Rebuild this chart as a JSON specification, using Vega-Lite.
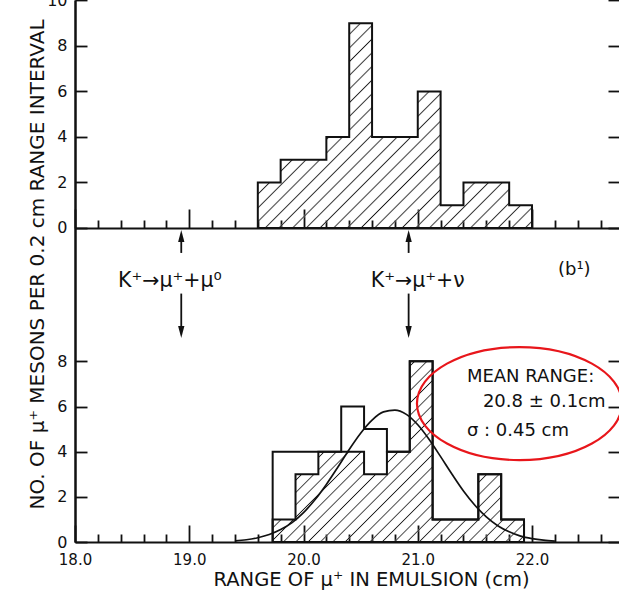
{
  "$schema": "https://vega.github.io/schema/vega-lite/v6.json",
  "autosize": "none",
  "padding": {"left": 75, "top": 0, "right": 0, "bottom": 49},
  "width": 545,
  "height": 542,
  "background": "#ffffff",
  "config": {
    "view": {"stroke": null},
    "font": "DejaVu Sans",
    "axis": {
      "grid": false,
      "domainColor": "#111111",
      "domainWidth": 2,
      "tickColor": "#111111",
      "tickWidth": 1.8,
      "labelColor": "#111111",
      "labelFont": "DejaVu Sans",
      "labelFontSize": 16,
      "titleColor": "#111111",
      "titleFont": "DejaVu Sans",
      "titleFontWeight": "normal",
      "labelFlush": false,
      "labelOverlap": false
    },
    "text": {"font": "DejaVu Sans", "color": "#111111"}
  },
  "datasets": {
    "upper": [
      {"start": 19.6, "end": 19.8, "count": 2},
      {"start": 19.8, "end": 20.0, "count": 3},
      {"start": 20.0, "end": 20.2, "count": 3},
      {"start": 20.2, "end": 20.4, "count": 4},
      {"start": 20.4, "end": 20.6, "count": 9},
      {"start": 20.6, "end": 20.8, "count": 4},
      {"start": 20.8, "end": 21.0, "count": 4},
      {"start": 21.0, "end": 21.2, "count": 6},
      {"start": 21.2, "end": 21.4, "count": 1},
      {"start": 21.4, "end": 21.6, "count": 2},
      {"start": 21.6, "end": 21.8, "count": 2},
      {"start": 21.8, "end": 22.0, "count": 1}
    ],
    "lower": [
      {"start": 19.73, "end": 19.93, "all": 4, "hatched": 1},
      {"start": 19.93, "end": 20.13, "all": 4, "hatched": 3},
      {"start": 20.13, "end": 20.33, "all": 4, "hatched": 4},
      {"start": 20.33, "end": 20.53, "all": 6, "hatched": 4},
      {"start": 20.53, "end": 20.73, "all": 5, "hatched": 3},
      {"start": 20.73, "end": 20.93, "all": 4, "hatched": 4},
      {"start": 20.93, "end": 21.13, "all": 8, "hatched": 8},
      {"start": 21.13, "end": 21.33, "all": 1, "hatched": 1},
      {"start": 21.33, "end": 21.53, "all": 1, "hatched": 1},
      {"start": 21.53, "end": 21.73, "all": 3, "hatched": 3},
      {"start": 21.73, "end": 21.93, "all": 1, "hatched": 1}
    ],
    "fit": [
      {"range": 19.4, "count": 0.05},
      {"range": 19.5, "count": 0.10},
      {"range": 19.6, "count": 0.19},
      {"range": 19.7, "count": 0.33},
      {"range": 19.8, "count": 0.55},
      {"range": 19.9, "count": 0.86},
      {"range": 20.0, "count": 1.30},
      {"range": 20.1, "count": 1.87},
      {"range": 20.2, "count": 2.55},
      {"range": 20.3, "count": 3.31},
      {"range": 20.4, "count": 4.10},
      {"range": 20.5, "count": 4.82},
      {"range": 20.6, "count": 5.40},
      {"range": 20.7, "count": 5.76},
      {"range": 20.8, "count": 5.84},
      {"range": 20.9, "count": 5.65},
      {"range": 21.0, "count": 5.19},
      {"range": 21.1, "count": 4.54},
      {"range": 21.2, "count": 3.78},
      {"range": 21.3, "count": 3.00},
      {"range": 21.4, "count": 2.26},
      {"range": 21.5, "count": 1.63},
      {"range": 21.6, "count": 1.11},
      {"range": 21.7, "count": 0.72},
      {"range": 21.8, "count": 0.45},
      {"range": 21.9, "count": 0.26},
      {"range": 22.0, "count": 0.15},
      {"range": 22.1, "count": 0.08},
      {"range": 22.2, "count": 0.04}
    ]
  },
  "layer": [
    {
      "data": {"name": "upper"},
      "transform": [{"fold": ["start", "end"], "as": ["edge", "range"]}],
      "layer": [
        {
          "mark": {
            "type": "area",
            "strokeWidth": 0,
            "fill": {
              "gradient": "linear", "x1": 0, "y1": 0, "x2": 1.1215, "y2": 0.8375,
              "stops": [
                {"offset":0.0103,"color":"rgba(255,255,255,0)"},{"offset":0.0143,"color":"#1a1a1a"},{"offset":0.0183,"color":"rgba(255,255,255,0)"},
                {"offset":0.0389,"color":"rgba(255,255,255,0)"},{"offset":0.0429,"color":"#1a1a1a"},{"offset":0.0469,"color":"rgba(255,255,255,0)"},
                {"offset":0.0674,"color":"rgba(255,255,255,0)"},{"offset":0.0714,"color":"#1a1a1a"},{"offset":0.0754,"color":"rgba(255,255,255,0)"},
                {"offset":0.0960,"color":"rgba(255,255,255,0)"},{"offset":0.1000,"color":"#1a1a1a"},{"offset":0.1040,"color":"rgba(255,255,255,0)"},
                {"offset":0.1246,"color":"rgba(255,255,255,0)"},{"offset":0.1286,"color":"#1a1a1a"},{"offset":0.1326,"color":"rgba(255,255,255,0)"},
                {"offset":0.1531,"color":"rgba(255,255,255,0)"},{"offset":0.1571,"color":"#1a1a1a"},{"offset":0.1611,"color":"rgba(255,255,255,0)"},
                {"offset":0.1817,"color":"rgba(255,255,255,0)"},{"offset":0.1857,"color":"#1a1a1a"},{"offset":0.1897,"color":"rgba(255,255,255,0)"},
                {"offset":0.2103,"color":"rgba(255,255,255,0)"},{"offset":0.2143,"color":"#1a1a1a"},{"offset":0.2183,"color":"rgba(255,255,255,0)"},
                {"offset":0.2389,"color":"rgba(255,255,255,0)"},{"offset":0.2429,"color":"#1a1a1a"},{"offset":0.2469,"color":"rgba(255,255,255,0)"},
                {"offset":0.2674,"color":"rgba(255,255,255,0)"},{"offset":0.2714,"color":"#1a1a1a"},{"offset":0.2754,"color":"rgba(255,255,255,0)"},
                {"offset":0.2960,"color":"rgba(255,255,255,0)"},{"offset":0.3000,"color":"#1a1a1a"},{"offset":0.3040,"color":"rgba(255,255,255,0)"},
                {"offset":0.3246,"color":"rgba(255,255,255,0)"},{"offset":0.3286,"color":"#1a1a1a"},{"offset":0.3326,"color":"rgba(255,255,255,0)"},
                {"offset":0.3531,"color":"rgba(255,255,255,0)"},{"offset":0.3571,"color":"#1a1a1a"},{"offset":0.3611,"color":"rgba(255,255,255,0)"},
                {"offset":0.3817,"color":"rgba(255,255,255,0)"},{"offset":0.3857,"color":"#1a1a1a"},{"offset":0.3897,"color":"rgba(255,255,255,0)"},
                {"offset":0.4103,"color":"rgba(255,255,255,0)"},{"offset":0.4143,"color":"#1a1a1a"},{"offset":0.4183,"color":"rgba(255,255,255,0)"},
                {"offset":0.4389,"color":"rgba(255,255,255,0)"},{"offset":0.4429,"color":"#1a1a1a"},{"offset":0.4469,"color":"rgba(255,255,255,0)"},
                {"offset":0.4674,"color":"rgba(255,255,255,0)"},{"offset":0.4714,"color":"#1a1a1a"},{"offset":0.4754,"color":"rgba(255,255,255,0)"},
                {"offset":0.4960,"color":"rgba(255,255,255,0)"},{"offset":0.5000,"color":"#1a1a1a"},{"offset":0.5040,"color":"rgba(255,255,255,0)"},
                {"offset":0.5246,"color":"rgba(255,255,255,0)"},{"offset":0.5286,"color":"#1a1a1a"},{"offset":0.5326,"color":"rgba(255,255,255,0)"},
                {"offset":0.5531,"color":"rgba(255,255,255,0)"},{"offset":0.5571,"color":"#1a1a1a"},{"offset":0.5611,"color":"rgba(255,255,255,0)"},
                {"offset":0.5817,"color":"rgba(255,255,255,0)"},{"offset":0.5857,"color":"#1a1a1a"},{"offset":0.5897,"color":"rgba(255,255,255,0)"},
                {"offset":0.6103,"color":"rgba(255,255,255,0)"},{"offset":0.6143,"color":"#1a1a1a"},{"offset":0.6183,"color":"rgba(255,255,255,0)"},
                {"offset":0.6389,"color":"rgba(255,255,255,0)"},{"offset":0.6429,"color":"#1a1a1a"},{"offset":0.6469,"color":"rgba(255,255,255,0)"},
                {"offset":0.6674,"color":"rgba(255,255,255,0)"},{"offset":0.6714,"color":"#1a1a1a"},{"offset":0.6754,"color":"rgba(255,255,255,0)"},
                {"offset":0.6960,"color":"rgba(255,255,255,0)"},{"offset":0.7000,"color":"#1a1a1a"},{"offset":0.7040,"color":"rgba(255,255,255,0)"},
                {"offset":0.7246,"color":"rgba(255,255,255,0)"},{"offset":0.7286,"color":"#1a1a1a"},{"offset":0.7326,"color":"rgba(255,255,255,0)"},
                {"offset":0.7531,"color":"rgba(255,255,255,0)"},{"offset":0.7571,"color":"#1a1a1a"},{"offset":0.7611,"color":"rgba(255,255,255,0)"},
                {"offset":0.7817,"color":"rgba(255,255,255,0)"},{"offset":0.7857,"color":"#1a1a1a"},{"offset":0.7897,"color":"rgba(255,255,255,0)"},
                {"offset":0.8103,"color":"rgba(255,255,255,0)"},{"offset":0.8143,"color":"#1a1a1a"},{"offset":0.8183,"color":"rgba(255,255,255,0)"},
                {"offset":0.8389,"color":"rgba(255,255,255,0)"},{"offset":0.8429,"color":"#1a1a1a"},{"offset":0.8469,"color":"rgba(255,255,255,0)"},
                {"offset":0.8674,"color":"rgba(255,255,255,0)"},{"offset":0.8714,"color":"#1a1a1a"},{"offset":0.8754,"color":"rgba(255,255,255,0)"},
                {"offset":0.8960,"color":"rgba(255,255,255,0)"},{"offset":0.9000,"color":"#1a1a1a"},{"offset":0.9040,"color":"rgba(255,255,255,0)"},
                {"offset":0.9246,"color":"rgba(255,255,255,0)"},{"offset":0.9286,"color":"#1a1a1a"},{"offset":0.9326,"color":"rgba(255,255,255,0)"},
                {"offset":0.9531,"color":"rgba(255,255,255,0)"},{"offset":0.9571,"color":"#1a1a1a"},{"offset":0.9611,"color":"rgba(255,255,255,0)"},
                {"offset":0.9817,"color":"rgba(255,255,255,0)"},{"offset":0.9857,"color":"#1a1a1a"},{"offset":0.9897,"color":"rgba(255,255,255,0)"}
              ]
            }
          },
          "encoding": {
            "x": {
              "field": "range", "type": "quantitative",
              "scale": {"domain": [18, 22.77], "nice": false, "zero": false},
              "axis": {
                "orient": "bottom",
                "offset": -314,
                "values": [18, 19, 20, 21, 22],
                "tickSize": -19,
                "labels": false,
                "title": null
              }
            },
            "y": {
              "field": "count", "type": "quantitative", "stack": null,
              "scale": {"domain": [-13.8, 10.02], "nice": false, "zero": false},
              "axis": {"orient": "left", "values": [0, 2, 4, 6, 8, 10], "tickSize": -12, "labelPadding": 20, "title": null}
            }
          }
        },
        {
          "mark": {"type": "area", "fill": "transparent", "stroke": "#111111", "strokeWidth": 2},
          "encoding": {
            "x": {
              "field": "range", "type": "quantitative",
              "axis": {
                "orient": "bottom",
                "offset": -314,
                "values": [18.2, 18.4, 18.6, 18.8, 19.2, 19.4, 19.6, 19.8, 20.2, 20.4, 20.6, 20.8, 21.2, 21.4, 21.6, 21.8, 22.2, 22.4, 22.6],
                "tickSize": -8,
                "labels": false,
                "domain": false,
                "title": null
              }
            },
            "y": {
              "field": "count", "type": "quantitative", "stack": null,
              "axis": {"orient": "right", "values": [0, 2, 4, 6, 8, 10], "tickSize": -12, "labels": false, "title": null, "domain": false}
            }
          }
        }
      ],
      "resolve": {"axis": {"x": "independent", "y": "independent"}}
    },
    {
      "layer": [
        {
          "data": {"name": "lower"},
          "transform": [{"fold": ["start", "end"], "as": ["edge", "range"]}],
          "mark": {
            "type": "area",
            "strokeWidth": 0,
            "fill": {
              "gradient": "linear", "x1": 0, "y1": 0, "x2": 1.1333, "y2": 0.8146,
              "stops": [
                {"offset":0.0103,"color":"rgba(255,255,255,0)"},{"offset":0.0143,"color":"#1a1a1a"},{"offset":0.0183,"color":"rgba(255,255,255,0)"},
                {"offset":0.0389,"color":"rgba(255,255,255,0)"},{"offset":0.0429,"color":"#1a1a1a"},{"offset":0.0469,"color":"rgba(255,255,255,0)"},
                {"offset":0.0674,"color":"rgba(255,255,255,0)"},{"offset":0.0714,"color":"#1a1a1a"},{"offset":0.0754,"color":"rgba(255,255,255,0)"},
                {"offset":0.0960,"color":"rgba(255,255,255,0)"},{"offset":0.1000,"color":"#1a1a1a"},{"offset":0.1040,"color":"rgba(255,255,255,0)"},
                {"offset":0.1246,"color":"rgba(255,255,255,0)"},{"offset":0.1286,"color":"#1a1a1a"},{"offset":0.1326,"color":"rgba(255,255,255,0)"},
                {"offset":0.1531,"color":"rgba(255,255,255,0)"},{"offset":0.1571,"color":"#1a1a1a"},{"offset":0.1611,"color":"rgba(255,255,255,0)"},
                {"offset":0.1817,"color":"rgba(255,255,255,0)"},{"offset":0.1857,"color":"#1a1a1a"},{"offset":0.1897,"color":"rgba(255,255,255,0)"},
                {"offset":0.2103,"color":"rgba(255,255,255,0)"},{"offset":0.2143,"color":"#1a1a1a"},{"offset":0.2183,"color":"rgba(255,255,255,0)"},
                {"offset":0.2389,"color":"rgba(255,255,255,0)"},{"offset":0.2429,"color":"#1a1a1a"},{"offset":0.2469,"color":"rgba(255,255,255,0)"},
                {"offset":0.2674,"color":"rgba(255,255,255,0)"},{"offset":0.2714,"color":"#1a1a1a"},{"offset":0.2754,"color":"rgba(255,255,255,0)"},
                {"offset":0.2960,"color":"rgba(255,255,255,0)"},{"offset":0.3000,"color":"#1a1a1a"},{"offset":0.3040,"color":"rgba(255,255,255,0)"},
                {"offset":0.3246,"color":"rgba(255,255,255,0)"},{"offset":0.3286,"color":"#1a1a1a"},{"offset":0.3326,"color":"rgba(255,255,255,0)"},
                {"offset":0.3531,"color":"rgba(255,255,255,0)"},{"offset":0.3571,"color":"#1a1a1a"},{"offset":0.3611,"color":"rgba(255,255,255,0)"},
                {"offset":0.3817,"color":"rgba(255,255,255,0)"},{"offset":0.3857,"color":"#1a1a1a"},{"offset":0.3897,"color":"rgba(255,255,255,0)"},
                {"offset":0.4103,"color":"rgba(255,255,255,0)"},{"offset":0.4143,"color":"#1a1a1a"},{"offset":0.4183,"color":"rgba(255,255,255,0)"},
                {"offset":0.4389,"color":"rgba(255,255,255,0)"},{"offset":0.4429,"color":"#1a1a1a"},{"offset":0.4469,"color":"rgba(255,255,255,0)"},
                {"offset":0.4674,"color":"rgba(255,255,255,0)"},{"offset":0.4714,"color":"#1a1a1a"},{"offset":0.4754,"color":"rgba(255,255,255,0)"},
                {"offset":0.4960,"color":"rgba(255,255,255,0)"},{"offset":0.5000,"color":"#1a1a1a"},{"offset":0.5040,"color":"rgba(255,255,255,0)"},
                {"offset":0.5246,"color":"rgba(255,255,255,0)"},{"offset":0.5286,"color":"#1a1a1a"},{"offset":0.5326,"color":"rgba(255,255,255,0)"},
                {"offset":0.5531,"color":"rgba(255,255,255,0)"},{"offset":0.5571,"color":"#1a1a1a"},{"offset":0.5611,"color":"rgba(255,255,255,0)"},
                {"offset":0.5817,"color":"rgba(255,255,255,0)"},{"offset":0.5857,"color":"#1a1a1a"},{"offset":0.5897,"color":"rgba(255,255,255,0)"},
                {"offset":0.6103,"color":"rgba(255,255,255,0)"},{"offset":0.6143,"color":"#1a1a1a"},{"offset":0.6183,"color":"rgba(255,255,255,0)"},
                {"offset":0.6389,"color":"rgba(255,255,255,0)"},{"offset":0.6429,"color":"#1a1a1a"},{"offset":0.6469,"color":"rgba(255,255,255,0)"},
                {"offset":0.6674,"color":"rgba(255,255,255,0)"},{"offset":0.6714,"color":"#1a1a1a"},{"offset":0.6754,"color":"rgba(255,255,255,0)"},
                {"offset":0.6960,"color":"rgba(255,255,255,0)"},{"offset":0.7000,"color":"#1a1a1a"},{"offset":0.7040,"color":"rgba(255,255,255,0)"},
                {"offset":0.7246,"color":"rgba(255,255,255,0)"},{"offset":0.7286,"color":"#1a1a1a"},{"offset":0.7326,"color":"rgba(255,255,255,0)"},
                {"offset":0.7531,"color":"rgba(255,255,255,0)"},{"offset":0.7571,"color":"#1a1a1a"},{"offset":0.7611,"color":"rgba(255,255,255,0)"},
                {"offset":0.7817,"color":"rgba(255,255,255,0)"},{"offset":0.7857,"color":"#1a1a1a"},{"offset":0.7897,"color":"rgba(255,255,255,0)"},
                {"offset":0.8103,"color":"rgba(255,255,255,0)"},{"offset":0.8143,"color":"#1a1a1a"},{"offset":0.8183,"color":"rgba(255,255,255,0)"},
                {"offset":0.8389,"color":"rgba(255,255,255,0)"},{"offset":0.8429,"color":"#1a1a1a"},{"offset":0.8469,"color":"rgba(255,255,255,0)"},
                {"offset":0.8674,"color":"rgba(255,255,255,0)"},{"offset":0.8714,"color":"#1a1a1a"},{"offset":0.8754,"color":"rgba(255,255,255,0)"},
                {"offset":0.8960,"color":"rgba(255,255,255,0)"},{"offset":0.9000,"color":"#1a1a1a"},{"offset":0.9040,"color":"rgba(255,255,255,0)"},
                {"offset":0.9246,"color":"rgba(255,255,255,0)"},{"offset":0.9286,"color":"#1a1a1a"},{"offset":0.9326,"color":"rgba(255,255,255,0)"},
                {"offset":0.9531,"color":"rgba(255,255,255,0)"},{"offset":0.9571,"color":"#1a1a1a"},{"offset":0.9611,"color":"rgba(255,255,255,0)"},
                {"offset":0.9817,"color":"rgba(255,255,255,0)"},{"offset":0.9857,"color":"#1a1a1a"},{"offset":0.9897,"color":"rgba(255,255,255,0)"}
              ]
            }
          },
          "encoding": {
            "x": {
              "field": "range", "type": "quantitative",
              "scale": {"domain": [18, 22.77], "nice": false, "zero": false},
              "axis": {
                "orient": "bottom",
                "values": [18, 19, 20, 21, 22],
                "format": ".1f",
                "tickSize": -17,
                "labelFontSize": 15,
                "labelPadding": 27,
                "title": "RANGE OF μ⁺ IN EMULSION (cm)",
                "titleFontSize": 19.5,
                "titleX": 296,
                "titleY": 43,
                "titleBaseline": "alphabetic"
              }
            },
            "y": {
              "field": "hatched", "type": "quantitative", "stack": null,
              "scale": {"domain": [0, 24], "nice": false},
              "axis": {
                "orient": "left", "values": [0, 2, 4, 6, 8], "tickSize": -12, "labelPadding": 20,
                "title": "NO. OF μ⁺ MESONS PER 0.2 cm RANGE INTERVAL",
                "titleFontSize": 20,
                "titleX": -32,
                "titleY": 264,
                "titleBaseline": "alphabetic"
              }
            }
          }
        },
        {
          "data": {"name": "lower"},
          "transform": [{"fold": ["start", "end"], "as": ["edge", "range"]}],
          "mark": {"type": "area", "fill": "transparent", "stroke": "#111111", "strokeWidth": 2},
          "encoding": {
            "x": {"field": "range", "type": "quantitative", "axis": null},
            "y": {"field": "all", "type": "quantitative", "stack": null, "axis": null}
          }
        },
        {
          "data": {"name": "lower"},
          "transform": [{"fold": ["start", "end"], "as": ["edge", "range"]}],
          "mark": {"type": "area", "fill": "transparent", "stroke": "#111111", "strokeWidth": 2},
          "encoding": {
            "x": {
              "field": "range", "type": "quantitative",
              "axis": {
                "orient": "bottom",
                "values": [18.2, 18.4, 18.6, 18.8, 19.2, 19.4, 19.6, 19.8, 20.2, 20.4, 20.6, 20.8, 21.2, 21.4, 21.6, 21.8, 22.2, 22.4, 22.6],
                "tickSize": -8,
                "labels": false,
                "domain": false,
                "title": null
              }
            },
            "y": {
              "field": "hatched", "type": "quantitative", "stack": null,
              "axis": {"orient": "right", "values": [0, 2, 4, 6, 8], "tickSize": -12, "labels": false, "title": null}
            }
          }
        },
        {
          "data": {"name": "fit"},
          "mark": {"type": "line", "interpolate": "monotone", "color": "#111111", "strokeWidth": 1.7},
          "encoding": {
            "x": {"field": "range", "type": "quantitative", "axis": null},
            "y": {"field": "count", "type": "quantitative", "axis": null}
          }
        },
        {
          "data": {"values": [{}]},
          "layer": [
            {
              "mark": {"type": "rule", "color": "#111111", "strokeWidth": 1.8},
              "encoding": {
                "x": {"datum": 18.93, "type": "quantitative", "axis": null},
                "y": {"datum": 12.8, "type": "quantitative", "axis": null},
                "y2": {"datum": 13.42}
              }
            },
            {
              "mark": {"type": "point", "shape": "M0,-1L0.42,0.6L-0.42,0.6Z", "size": 225, "filled": true, "color": "#111111", "opacity": 1},
              "encoding": {
                "x": {"datum": 18.93, "type": "quantitative", "axis": null},
                "y": {"datum": 13.48, "type": "quantitative", "axis": null}
              }
            },
            {
              "mark": {"type": "rule", "color": "#111111", "strokeWidth": 1.8},
              "encoding": {
                "x": {"datum": 18.93, "type": "quantitative", "axis": null},
                "y": {"datum": 11.0, "type": "quantitative", "axis": null},
                "y2": {"datum": 9.56}
              }
            },
            {
              "mark": {"type": "point", "shape": "M0,1L0.42,-0.6L-0.42,-0.6Z", "size": 225, "filled": true, "color": "#111111", "opacity": 1},
              "encoding": {
                "x": {"datum": 18.93, "type": "quantitative", "axis": null},
                "y": {"datum": 9.36, "type": "quantitative", "axis": null}
              }
            },
            {
              "mark": {"type": "rule", "color": "#111111", "strokeWidth": 1.8},
              "encoding": {
                "x": {"datum": 20.92, "type": "quantitative", "axis": null},
                "y": {"datum": 12.8, "type": "quantitative", "axis": null},
                "y2": {"datum": 13.42}
              }
            },
            {
              "mark": {"type": "point", "shape": "M0,-1L0.42,0.6L-0.42,0.6Z", "size": 225, "filled": true, "color": "#111111", "opacity": 1},
              "encoding": {
                "x": {"datum": 20.92, "type": "quantitative", "axis": null},
                "y": {"datum": 13.48, "type": "quantitative", "axis": null}
              }
            },
            {
              "mark": {"type": "rule", "color": "#111111", "strokeWidth": 1.8},
              "encoding": {
                "x": {"datum": 20.92, "type": "quantitative", "axis": null},
                "y": {"datum": 11.0, "type": "quantitative", "axis": null},
                "y2": {"datum": 9.56}
              }
            },
            {
              "mark": {"type": "point", "shape": "M0,1L0.42,-0.6L-0.42,-0.6Z", "size": 225, "filled": true, "color": "#111111", "opacity": 1},
              "encoding": {
                "x": {"datum": 20.92, "type": "quantitative", "axis": null},
                "y": {"datum": 9.36, "type": "quantitative", "axis": null}
              }
            },
            {
              "mark": {"type": "text", "fontSize": 20.5, "align": "center", "baseline": "middle"},
              "encoding": {
                "x": {"datum": 18.83, "type": "quantitative", "axis": null},
                "y": {"datum": 11.55, "type": "quantitative", "axis": null},
                "text": {"value": "K⁺→μ⁺+μ⁰"}
              }
            },
            {
              "mark": {"type": "text", "fontSize": 20.5, "align": "center", "baseline": "middle"},
              "encoding": {
                "x": {"datum": 21.0, "type": "quantitative", "axis": null},
                "y": {"datum": 11.55, "type": "quantitative", "axis": null},
                "text": {"value": "K⁺→μ⁺+ν"}
              }
            },
            {
              "mark": {"type": "text", "fontSize": 18, "align": "center", "baseline": "middle"},
              "encoding": {
                "x": {"datum": 22.37, "type": "quantitative", "axis": null},
                "y": {"datum": 12.04, "type": "quantitative", "axis": null},
                "text": {"value": "(b¹)"}
              }
            },
            {
              "mark": {"type": "point", "shape": "M-1,0A1,0.551,0,1,1,1,0A1,0.551,0,1,1,-1,0Z", "size": 42025, "filled": false, "color": "#e8161b", "strokeWidth": 2.2, "opacity": 1},
              "encoding": {
                "x": {"datum": 21.89, "type": "quantitative", "axis": null},
                "y": {"datum": 6.13, "type": "quantitative", "axis": null}
              }
            },
            {
              "mark": {"type": "text", "fontSize": 18, "align": "left", "baseline": "alphabetic"},
              "encoding": {
                "x": {"datum": 21.43, "type": "quantitative", "axis": null},
                "y": {"datum": 7.08, "type": "quantitative", "axis": null},
                "text": {"value": "MEAN RANGE:"}
              }
            },
            {
              "mark": {"type": "text", "fontSize": 18, "align": "left", "baseline": "alphabetic"},
              "encoding": {
                "x": {"datum": 21.57, "type": "quantitative", "axis": null},
                "y": {"datum": 5.98, "type": "quantitative", "axis": null},
                "text": {"value": "20.8 ± 0.1cm"}
              }
            },
            {
              "mark": {"type": "text", "fontSize": 18, "align": "left", "baseline": "alphabetic"},
              "encoding": {
                "x": {"datum": 21.43, "type": "quantitative", "axis": null},
                "y": {"datum": 4.69, "type": "quantitative", "axis": null},
                "text": {"value": "σ : 0.45 cm"}
              }
            }
          ]
        }
      ],
      "resolve": {"axis": {"x": "independent", "y": "independent"}}
    }
  ],
  "resolve": {"scale": {"y": "independent"}, "axis": {"x": "independent"}}
}
